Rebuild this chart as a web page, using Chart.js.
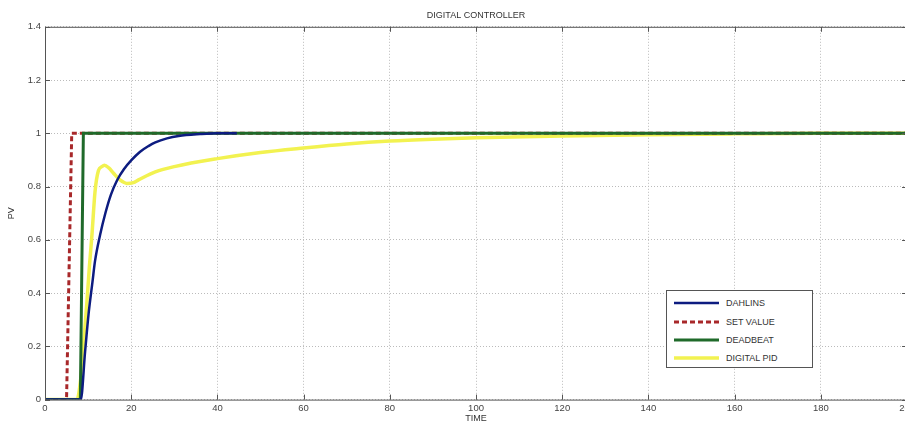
<!DOCTYPE html>
<html>
<head>
<meta charset="utf-8">
<title>Digital controller</title>
<script src="https://cdn.jsdelivr.net/npm/chart.js@4"></script>
<style>
  html, body { margin: 0; padding: 0; background: #fff; overflow: hidden; width: 905px; height: 426px; }
  #wrap { position: absolute; left: 0; top: 0; width: 918px; height: 426px; }
  #legend {
    position: absolute; left: 666px; top: 290px; width: 145px; height: 76px;
    border: 1px solid #555; background: #fff;
    font-family: "Liberation Sans", Arial, sans-serif; font-size: 9px; color: #333;
  }
  #legend .row { position: absolute; left: 7px; height: 12px; line-height: 12px; }
  #legend svg { position: absolute; left: 0; top: 1px; }
  #legend span { position: absolute; left: 52px; white-space: nowrap; }
</style>
</head>
<body>
<div id="wrap"><canvas id="chart" width="918" height="426"></canvas></div>
<div id="legend"></div>
<script>
// values
const dahlinsTime = [0, 8.3, 9.3, 10.1, 11, 11.6, 12.8, 14, 15.3, 16.7, 18.3, 20.1, 22, 24, 25.6, 28.3, 31, 36, 40, 44.5];
const dahlinsPV   = [0, 0, 0.18, 0.32, 0.44, 0.52, 0.62, 0.7, 0.77, 0.823, 0.865, 0.9, 0.93, 0.952, 0.966, 0.981, 0.99, 0.997, 1, 1];

const setTime = [0, 5, 6.2, 200];
const setPV   = [0, 0, 1, 1];

const deadbeatTime = [0, 8.2, 8.9, 200];
const deadbeatPV   = [0, 0, 1, 1];

const pidTime = [0, 7.4, 8.3, 9, 9.7, 10.3, 10.9, 11.6, 12.4, 13.2, 13.8, 14.8, 15.9, 17.4, 19, 20.5, 21.7, 25.6, 30, 40, 50, 60, 70, 80, 90, 100, 120, 140, 160, 180, 200];
const pidPV   = [0, 0, 0.08, 0.22, 0.36, 0.5, 0.62, 0.78, 0.86, 0.875, 0.88, 0.87, 0.85, 0.825, 0.812, 0.815, 0.825, 0.855, 0.875, 0.905, 0.928, 0.945, 0.96, 0.971, 0.978, 0.983, 0.99, 0.995, 0.998, 1, 1];

const seriesNames = ['DAHLINS', 'SET VALUE', 'DEADBEAT', 'DIGITAL PID'];
const seriesColors = ['#0d1c80', '#a8282a', '#1f6a2a', '#f2f250'];

const toPoints = (xs, ys) => xs.map((x, i) => ({ x, y: ys[i] }));

const font = { family: '"Liberation Sans", Arial, sans-serif', size: 9, weight: 'normal' };

// matlab style box with inward ticks
const boxPlugin = {
  id: 'box',
  afterDraw(chart) {
    const { ctx, chartArea: a, scales } = chart;
    ctx.save();
    ctx.strokeStyle = '#555';
    ctx.lineWidth = 1;
    ctx.strokeRect(a.left + 0.5, a.top + 0.5, a.right - a.left, a.bottom - a.top);
    ctx.beginPath();
    scales.x.ticks.forEach(t => {
      const px = Math.round(scales.x.getPixelForValue(t.value)) + 0.5;
      ctx.moveTo(px, a.bottom); ctx.lineTo(px, a.bottom - 5);
      ctx.moveTo(px, a.top); ctx.lineTo(px, a.top + 5);
    });
    scales.y.ticks.forEach(t => {
      const py = Math.round(scales.y.getPixelForValue(t.value)) + 0.5;
      ctx.moveTo(a.left, py); ctx.lineTo(a.left + 5, py);
      ctx.moveTo(a.right, py); ctx.lineTo(a.right - 5, py);
    });
    ctx.stroke();
    ctx.restore();
  }
};

const chart = new Chart(document.getElementById('chart'), {
  type: 'line',
  data: {
    datasets: [
      { label: seriesNames[0], data: toPoints(dahlinsTime, dahlinsPV), borderColor: seriesColors[0], borderWidth: 2.5, cubicInterpolationMode: 'monotone', order: 0 },
      { label: seriesNames[1], data: toPoints(setTime, setPV), borderColor: seriesColors[1], borderWidth: 3, borderDash: [5, 3], order: 2 },
      { label: seriesNames[2], data: toPoints(deadbeatTime, deadbeatPV), borderColor: seriesColors[2], borderWidth: 3, order: 1 },
      { label: seriesNames[3], data: toPoints(pidTime, pidPV), borderColor: seriesColors[3], borderWidth: 3.5, cubicInterpolationMode: 'monotone', order: 3 }
    ]
  },
  options: {
    responsive: false,
    animation: false,
    elements: { point: { radius: 0 } },
    layout: { padding: 0 },
    plugins: {
      legend: { display: false },
      tooltip: { enabled: false },
      title: {
        display: true, text: 'DIGITAL CONTROLLER', fullSize: false,
        color: '#333', font, padding: { top: 10, bottom: 6 }
      }
    },
    scales: {
      x: {
        type: 'linear', min: 0, max: 200,
        ticks: { stepSize: 20, color: '#444', font: { ...font, size: 9.5 }, padding: 3, maxRotation: 0 },
        grid: { color: '#bbb', drawTicks: false },
        border: { display: false, dash: [1, 2] },
        title: { display: true, text: 'TIME', color: '#333', font, padding: { top: 0, bottom: 2 } },
        afterFit(s) { s.height = 26.4; }
      },
      y: {
        min: 0, max: 1.4,
        ticks: { stepSize: 0.2, color: '#444', font: { ...font, size: 9.5 }, padding: 4, callback: v => String(+v.toFixed(1)) },
        grid: { color: '#bbb', drawTicks: false },
        border: { display: false, dash: [1, 2] },
        title: { display: true, text: 'PV', color: '#333', font, padding: { top: 6, bottom: 0 } },
        afterFit(s) { s.width = 45; }
      }
    }
  },
  plugins: [boxPlugin]
});

// html legend
const legend = document.getElementById('legend');
const rowTops = [6, 25, 43, 61];
seriesNames.forEach((name, i) => {
  const ds = chart.data.datasets[i];
  const dash = ds.borderDash ? `stroke-dasharray="${ds.borderDash.join(',')}"` : '';
  const row = document.createElement('div');
  row.className = 'row';
  row.style.top = rowTops[i] + 'px';
  row.innerHTML = `<svg width="46" height="10"><line x1="0" y1="5" x2="45" y2="5" stroke="${ds.borderColor}" stroke-width="${ds.borderWidth}" ${dash}/></svg><span>${name}</span>`;
  legend.appendChild(row);
});
</script>
</body>
</html>
